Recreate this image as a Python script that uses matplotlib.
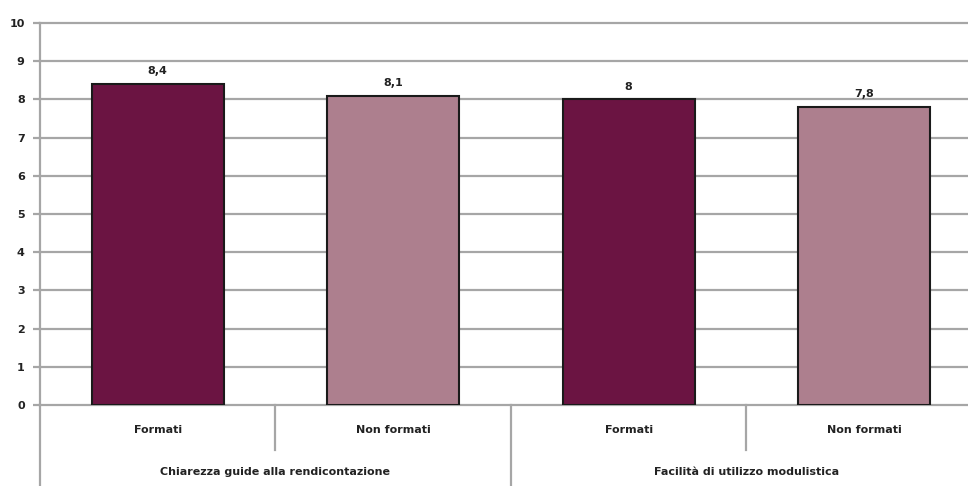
import matplotlib
matplotlib.use("Agg")
import matplotlib.pyplot as plt

categories = ["Formati", "Non formati", "Formati", "Non formati"]
groups = ["Chiarezza guide alla rendicontazione", "Facilità di utilizzo modulistica"]
values = [8.4, 8.1, 8.0, 7.8]
value_labels = ["8,4", "8,1", "8", "7,8"]
colors = ["#6B1442", "#AD7F8E", "#6B1442", "#AD7F8E"]

fam = ["Liberation Sans Narrow", "DejaVu Sans Condensed", "DejaVu Sans"]
plt.rcParams['font.family'] = fam

fig = plt.figure(figsize=(9.68, 4.86), dpi=100)
ax = fig.add_axes([0.0413, 0.1667, 0.973, 0.786])

x = list(range(len(values)))
ax.bar(x, values, width=0.56, color=colors, edgecolor="#1a1a1a", linewidth=1.5, zorder=3)
for xi, v, lab in zip(x, values, value_labels):
    ax.text(xi, v + 0.2, lab, ha="center", va="bottom", fontsize=8, fontweight="bold", color="#222222")

ax.set_xlim(-0.5, 3.5)
ax.set_ylim(0, 10)
ax.set_yticks(range(0, 11))
ax.set_yticklabels([str(i) for i in range(0, 11)], fontsize=8, fontweight="bold", color="#222222")
ax.grid(axis="y", color="#a6a6a6", linewidth=1.6, zorder=0)
for gl in ax.get_ygridlines():
    gl.set_clip_on(False)
ax.set_axisbelow(True)
for s in ["top", "right", "bottom"]:
    ax.spines[s].set_visible(False)
ax.spines["left"].set_color("#a6a6a6")
ax.spines["left"].set_linewidth(1.6)
ax.tick_params(axis="y", length=5, color="#a6a6a6", width=1.6, pad=6)
ax.set_xticks([])

tr = ax.get_xaxis_transform()
for sx in [0.5, 2.5]:
    ax.plot([sx, sx], [0, -0.118], transform=tr, color="#a6a6a6", lw=1.6, clip_on=False)
for sx in [-0.5, 1.5]:
    ax.plot([sx, sx], [0, -0.215], transform=tr, color="#a6a6a6", lw=1.6, clip_on=False)

for xi, c in zip(x, categories):
    ax.text(xi, -0.065, c, transform=tr, ha="center", va="center", fontsize=8, fontweight="bold", color="#222222")
for gi, g in enumerate(groups):
    ax.text(gi * 2 + 0.5, -0.175, g, transform=tr, ha="center", va="center", fontsize=8, fontweight="bold", color="#222222")

fig.savefig("out.png", dpi=100)
